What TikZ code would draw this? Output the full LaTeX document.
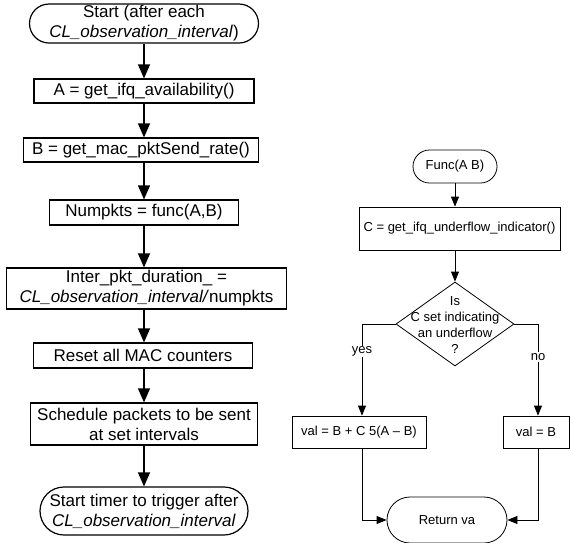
\documentclass[tikz,border=0pt]{standalone}
\usepackage{fontspec}
\setmainfont{Liberation Sans}
\usepackage{tikz}
\usetikzlibrary{shapes.misc,shapes.geometric,arrows.meta}

\begin{document}
\begin{tikzpicture}[x=1pt,y=-1pt,
  big/.style={font=\fontsize{17}{20}\selectfont},
  small/.style={font=\fontsize{13}{16}\selectfont},
  procbox/.style={draw,line width=1.2pt,inner sep=0pt,align=center,big},
  termbox/.style={draw,rounded rectangle,line width=1.2pt,inner sep=0pt,align=center,big},
  sbox/.style={draw,line width=0.8pt,inner sep=0pt,align=center,small},
  sterm/.style={draw,rounded rectangle,line width=0.8pt,inner sep=0pt,align=center,small},
  decision/.style={draw,diamond,line width=0.8pt,inner sep=0pt,minimum width=118pt,minimum height=84pt},
  bigarrow/.style={line width=1.2pt,-{Triangle[length=14pt,width=12pt]}},
  smallarrow/.style={line width=0.8pt,-{Triangle[length=10pt,width=8pt]}},
  branch/.style={small,fill=white,inner sep=1pt}]
\useasboundingbox (0,0) rectangle (571,542);
% left flow
\node[termbox,minimum width=229pt,minimum height=39pt] (start) at (144,23.5)
  {Start (after each\\\textit{CL\_observation\_interval})};
\node[procbox,minimum width=220pt,minimum height=24pt] (avail) at (144,91)
  {A = get\_ifq\_availability()};
\node[procbox,minimum width=235pt,minimum height=24pt] (rate) at (141,150)
  {B = get\_mac\_pktSend\_rate()};
\node[procbox,minimum width=189pt,minimum height=25pt] (numpkts) at (144,212.5)
  {Numpkts = func(A,B)};
\node[procbox,minimum width=280pt,minimum height=41pt] (inter) at (146.5,288.5)
  {Inter\_pkt\_duration\_ =\\\textit{CL\_observation\_interval/}numpkts};
\node[procbox,minimum width=219pt,minimum height=25pt] (reset) at (143,355.5)
  {Reset all MAC counters};
\node[procbox,minimum width=227pt,minimum height=42pt] (sched) at (144,424)
  {Schedule packets to be sent\\at set intervals};
\node[termbox,minimum width=208pt,minimum height=48pt] (timer) at (144,511)
  {Start timer to trigger after\\\textit{CL\_observation\_interval}};
\draw[bigarrow] (start.south) -- (start.south |- avail.north);
\draw[bigarrow] (start.south |- avail.south) -- (start.south |- rate.north);
\draw[bigarrow] (start.south |- rate.south) -- (start.south |- numpkts.north);
\draw[bigarrow] (start.south |- numpkts.south) -- (start.south |- inter.north);
\draw[bigarrow] (start.south |- inter.south) -- (start.south |- reset.north);
\draw[bigarrow] (start.south |- reset.south) -- (start.south |- sched.north);
\draw[bigarrow] (start.south |- sched.south) -- (timer.north);
% right flow
\node[sterm,minimum width=84pt,minimum height=33pt] (func) at (455,166.5) {Func(A B)};
\node[sbox,minimum width=201pt,minimum height=43pt] (under) at (459.5,228.5)
  {C = get\_ifq\_underflow\_indicator()};
\node[decision] (dec) at (455,324) {};
\node[small,align=center] (question) at (455,325) {Is\\C set indicating\\an underflow\\?};
\node[sbox,minimum width=134pt,minimum height=32pt] (valyes) at (359,432) {val = B + C 5(A – B)};
\node[sbox,minimum width=66pt,minimum height=32pt] (valno) at (536,432) {val = B};
\node[sterm,minimum width=120pt,minimum height=46pt] (ret) at (447,520) {Return va};
\coordinate (ycorner) at (362,324);
\coordinate (ncorner) at (538,324);
\draw[smallarrow] (func.south) -- (func.south |- under.north);
\draw[smallarrow] (func.south |- under.south) -- (dec.north);
\draw[smallarrow] (dec.west) -- (ycorner) -- node[branch,pos=0.3] {yes} (ycorner |- valyes.north);
\draw[smallarrow] (dec.east) -- (ncorner) -- node[branch,pos=0.36] {no} (ncorner |- valno.north);
\draw[smallarrow] (ycorner |- valyes.south) -- (ycorner |- ret.west) -- (ret.west);
\draw[smallarrow] (ncorner |- valno.south) -- (ncorner |- ret.east) -- (ret.east);
\end{tikzpicture}
\end{document}
